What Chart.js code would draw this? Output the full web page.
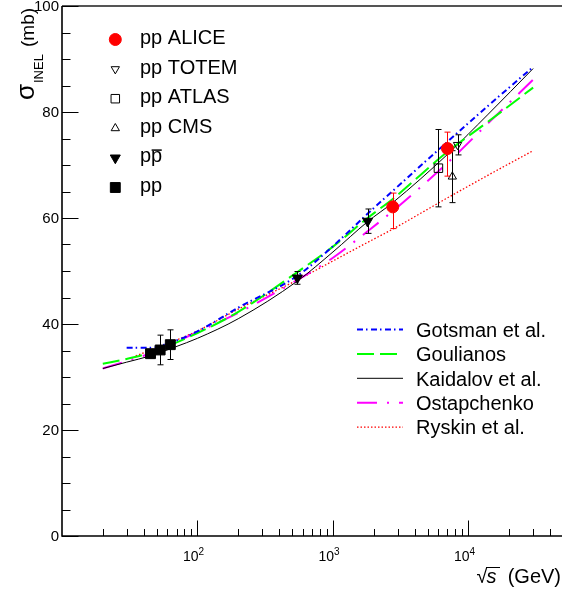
<!DOCTYPE html>
<html>
<head>
<meta charset="utf-8">
<script src="https://cdn.jsdelivr.net/npm/chart.js@4.4.1/dist/chart.umd.min.js"></script>
<style>
html, body { margin: 0; padding: 0; background: #fff; overflow: hidden; }
canvas { display: block; }
</style>
</head>
<body>
<canvas id="xsec" width="562" height="592"></canvas>
<script>
// sqrt(s) en GeV, sigma inelastica en mb

// Modelos
const gotsmanE = [30, 45, 60, 100, 200, 546, 1000, 1800, 2760, 7000, 14000, 30000];
const gotsmanS = [35.5, 35.5, 36.3, 38.6, 43.1, 49.1, 54.7, 60.8, 65.1, 74.4, 81.2, 88.5];

const goulianosE = [20, 30, 45, 100, 200, 546, 1000, 1800, 2760, 7000, 14000, 30000];
const goulianosS = [32.5, 33.4, 34.6, 38.3, 42.3, 49.8, 54.6, 60.0, 63.6, 72.5, 78.2, 84.6];

const kaidalovE = [20, 30, 45, 69, 100, 200, 546, 1000, 1800, 2760, 7000, 14000, 30000];
const kaidalovS = [31.6, 32.8, 34.0, 35.7, 37.3, 41.0, 48.1, 53.6, 59.3, 62.9, 72.0, 79.6, 88.2];

const ostapE = [20, 30, 45, 100, 200, 546, 1000, 1800, 2760, 7000, 14000, 30000];
const ostapS = [31.6, 33.0, 34.5, 38.5, 42.1, 48.3, 52.5, 57.5, 61.3, 70.4, 77.9, 86.1];

const ryskinE = [35, 60, 100, 200, 546, 1000, 1800, 2760, 7000, 14000, 30000];
const ryskinS = [34.0, 36.3, 38.7, 42.8, 48.3, 51.9, 55.4, 57.9, 63.8, 68.1, 72.7];

// Medidas
const aliceE = [2760, 7000];
const aliceS = [62.1, 73.1];
const aliceUp = [2.6, 3.1];
const aliceDn = [4.1, 5.2];

const totemE = [8300];
const totemS = [73.8];
const totemErr = [1.9];

const atlasE = [6000];
const atlasS = [69.4];
const atlasErr = [7.3];

const cmsE = [7600];
const cmsS = [67.8];
const cmsErr = [4.9];

const ppbarE = [546, 1800];
const ppbarS = [48.7, 59.4];
const ppbarErr = [1.2, 2.3];

const ppE = [45, 53, 63];
const ppS = [34.4, 35.1, 36.1];
const ppErr = [0.8, 2.8, 2.8];

// Ejes
const xTickVals = [100, 1000, 10000];
const yTickVals = [0, 20, 40, 60, 80, 100];

const FONT = '"Liberation Sans", Arial, sans-serif';

function toXY(xs, ys) {
    return xs.map((v, i) => ({ x: v, y: ys[i] }));
}

function curve(label, xs, ys, color, width, dash) {
    return {
        label: label,
        data: toXY(xs, ys),
        showLine: true,
        borderColor: color,
        borderWidth: width,
        borderDash: dash,
        pointRadius: 0,
        cubicInterpolationMode: 'monotone',
        fill: false,
        order: 1,
        isCurve: true
    };
}

function points(label, xs, ys, up, dn, style, radius, rotation, fillColor, lineColor, errColor) {
    return {
        label: label,
        data: toXY(xs, ys),
        showLine: false,
        pointStyle: style,
        pointRadius: radius,
        pointRotation: rotation,
        pointBackgroundColor: fillColor,
        pointBorderColor: lineColor,
        pointBorderWidth: 1,
        order: 0,
        errUp: up,
        errDn: dn,
        errColor: errColor
    };
}

const datasets = [
    points('pp ALICE', aliceE, aliceS, aliceUp, aliceDn, 'circle', 6, 0, '#ff0000', '#ff0000', '#ff0000'),
    points('pp TOTEM', totemE, totemS, totemErr, totemErr, 'triangle', 4.8, 180, 'rgba(0,0,0,0)', '#000', '#000'),
    points('pp ATLAS', atlasE, atlasS, atlasErr, atlasErr, 'rect', 6, 0, 'rgba(0,0,0,0)', '#000', '#000'),
    points('pp CMS', cmsE, cmsS, cmsErr, cmsErr, 'triangle', 4.8, 0, 'rgba(0,0,0,0)', '#000', '#000'),
    points('ppbar', ppbarE, ppbarS, ppbarErr, ppbarErr, 'triangle', 5.8, 180, '#000', '#000', '#000'),
    points('pp', ppE, ppS, ppErr, ppErr, 'rect', 7, 0, '#000', '#000', '#000'),
    curve('Gotsman et al.', gotsmanE, gotsmanS, '#0000ff', 2, [6, 3, 1.5, 3.5]),
    curve('Goulianos', goulianosE, goulianosS, '#00ff00', 2, [17, 6]),
    curve('Kaidalov et al.', kaidalovE, kaidalovS, '#000000', 1, []),
    curve('Ostapchenko', ostapE, ostapS, '#ff00ff', 2, [20, 10, 2, 10]),
    curve('Ryskin et al.', ryskinE, ryskinS, '#ff0000', 1.3, [1.5, 2])
];

// Barras de error, ejes estilo ROOT y leyendas
const rootStyle = {
    id: 'rootStyle',
    beforeDatasetDraw(chart, args) {
        const ds = chart.data.datasets[args.index];
        if (!ds.errUp) return;
        const { ctx, scales: { x, y } } = chart;
        ctx.save();
        ctx.strokeStyle = ds.errColor;
        ctx.lineWidth = 1;
        ds.data.forEach((p, i) => {
            const px = Math.round(x.getPixelForValue(p.x)) + 0.5;
            const top = y.getPixelForValue(p.y + ds.errUp[i]);
            const bot = y.getPixelForValue(p.y - ds.errDn[i]);
            ctx.beginPath();
            ctx.moveTo(px, top); ctx.lineTo(px, bot);
            ctx.moveTo(px - 3, top); ctx.lineTo(px + 3, top);
            ctx.moveTo(px - 3, bot); ctx.lineTo(px + 3, bot);
            ctx.stroke();
        });
        ctx.restore();
    },
    afterDraw(chart) {
        const { ctx, chartArea: a, scales: { x, y } } = chart;
        ctx.save();

        // marco
        ctx.strokeStyle = '#000';
        ctx.lineWidth = 1.6;
        ctx.beginPath();
        ctx.moveTo(a.left, a.top); ctx.lineTo(a.left, a.bottom); ctx.lineTo(a.right, a.bottom);
        ctx.stroke();
        ctx.strokeStyle = '#555';
        ctx.lineWidth = 2;
        ctx.beginPath();
        ctx.moveTo(a.left, a.top); ctx.lineTo(a.right, a.top);
        ctx.stroke();

        // marcas eje y
        ctx.strokeStyle = '#000';
        ctx.lineWidth = 1;
        ctx.beginPath();
        for (let v = y.min; v <= y.max; v += 5) {
            const py = Math.round(y.getPixelForValue(v)) + 0.5;
            const len = v % 20 === 0 ? 16.5 : 8.5;
            ctx.moveTo(a.left, py); ctx.lineTo(a.left + len, py);
        }
        // marcas eje x (log)
        for (let dec = 10; dec < x.max; dec *= 10) {
            for (let m = 1; m < 10; m++) {
                const v = dec * m;
                if (v <= x.min || v >= x.max) continue;
                const px = Math.round(x.getPixelForValue(v)) + 0.5;
                const len = m === 1 ? 15.5 : 7;
                ctx.moveTo(px, a.bottom); ctx.lineTo(px, a.bottom - len);
            }
        }
        ctx.stroke();

        // etiquetas
        ctx.fillStyle = '#000';
        ctx.font = '15px ' + FONT;
        ctx.textAlign = 'right';
        ctx.textBaseline = 'middle';
        yTickVals.forEach(v => ctx.fillText(String(v), 59, y.getPixelForValue(v) + 0.5));

        ctx.textBaseline = 'alphabetic';
        xTickVals.forEach(v => {
            const px = x.getPixelForValue(v);
            ctx.font = '14px ' + FONT;
            ctx.textAlign = 'right';
            ctx.fillText('10', px + 1, 561);
            ctx.font = '10px ' + FONT;
            ctx.textAlign = 'left';
            ctx.fillText(String(Math.round(Math.log10(v))), px + 1, 555);
        });

        // titulo eje x
        ctx.font = '20px ' + FONT;
        ctx.textAlign = 'right';
        ctx.fillText('(GeV)', 561, 583);
        ctx.font = 'italic 20px ' + FONT;
        ctx.textAlign = 'left';
        ctx.fillText('s', 486.5, 583);
        ctx.font = '20px ' + FONT;
        ctx.textAlign = 'right';
        ctx.fillText('\u221A', 487.5, 583);
        ctx.lineWidth = 1;
        ctx.beginPath();
        ctx.moveTo(486, 567.5); ctx.lineTo(500, 567.5);
        ctx.stroke();

        // titulo eje y
        ctx.save();
        ctx.translate(33.5, 0);
        ctx.rotate(-Math.PI / 2);
        ctx.textAlign = 'left';
        ctx.font = '26px ' + FONT;
        ctx.fillText('\u03C3', -100, 0);
        ctx.font = '13px ' + FONT;
        ctx.fillText('INEL', -83, 9.3);
        ctx.font = '19px ' + FONT;
        ctx.fillText('(mb)', -47, 0);
        ctx.restore();

        // leyenda de medidas
        ctx.font = '20px ' + FONT;
        ctx.textAlign = 'left';
        let row = 0;
        chart.data.datasets.forEach(ds => {
            if (ds.isCurve) return;
            const my = 39.5 + row * 29.6;
            const ty = 44 + row * 29.6;
            ctx.fillStyle = ds.pointBackgroundColor;
            ctx.strokeStyle = ds.pointBorderColor;
            ctx.lineWidth = 1;
            Chart.helpers.drawPoint(ctx, {
                pointStyle: ds.pointStyle,
                radius: ds.pointRadius,
                rotation: ds.pointRotation,
                borderWidth: 1
            }, 115.3, my);
            ctx.fillStyle = '#000';
            if (ds.label === 'ppbar') {
                ctx.fillText('pp', 140, ty);
                const wp = ctx.measureText('p').width;
                ctx.strokeStyle = '#000';
                ctx.lineWidth = 1.5;
                ctx.beginPath();
                ctx.moveTo(140 + wp + 0.5, ty - 12.3);
                ctx.lineTo(140 + 2 * wp - 0.5, ty - 12.3);
                ctx.stroke();
            } else {
                ctx.fillText(ds.label, 140, ty);
            }
            row++;
        });

        // leyenda de modelos
        row = 0;
        chart.data.datasets.forEach(ds => {
            if (!ds.isCurve) return;
            const ly = 329.5 + row * 24.4;
            ctx.strokeStyle = ds.borderColor;
            ctx.lineWidth = ds.borderWidth;
            ctx.setLineDash(ds.borderDash);
            ctx.beginPath();
            ctx.moveTo(357, ly); ctx.lineTo(403, ly);
            ctx.stroke();
            ctx.setLineDash([]);
            ctx.fillStyle = '#000';
            ctx.fillText(ds.label, 416, ly + 7.2);
            row++;
        });

        ctx.restore();
    }
};

const ctx = document.getElementById('xsec').getContext('2d');
const xsecChart = new Chart(ctx, {
    type: 'scatter',
    data: { datasets: datasets },
    options: {
        responsive: false,
        animation: false,
        layout: { autoPadding: false, padding: { left: 62, right: 0, top: 6, bottom: 56 } },
        scales: {
            x: { type: 'logarithmic', min: 10, max: 49000, display: false },
            y: { type: 'linear', min: 0, max: 100, display: false }
        },
        plugins: {
            legend: { display: false },
            tooltip: { enabled: false }
        }
    },
    plugins: [rootStyle]
});
</script>
</body>
</html>
